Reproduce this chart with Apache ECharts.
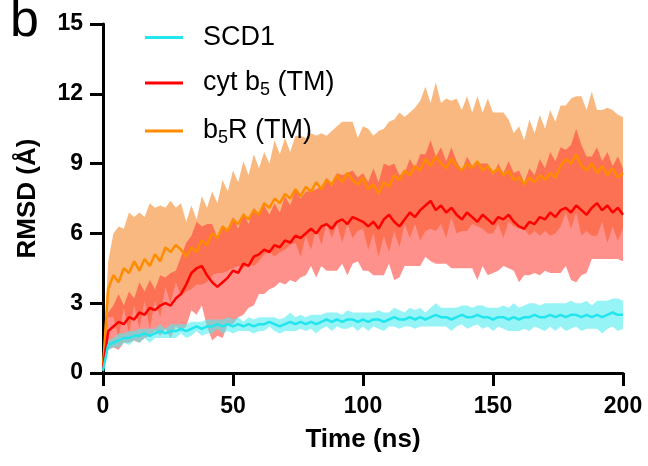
<!DOCTYPE html>
<html>
<head>
<meta charset="utf-8">
<script src="https://cdn.jsdelivr.net/npm/echarts@6/dist/echarts.min.js"></script>
<style>html,body{margin:0;padding:0;background:#fff}#c{width:648px;height:466px}</style>
</head>
<body>
<div id="c"></div>
<script>
// Time points (ns)
const timeNs = [0,2,4,6,8,10,12,14,16,18,20,22,24,26,28,30,32,34,36,38,40,42,44,46,48,50,52,54,56,58,60,62,64,66,68,70,72,74,76,78,80,82,84,86,88,90,92,94,96,98,100,102,104,106,108,110,112,114,116,118,120,122,124,126,128,130,132,134,136,138,140,142,144,146,148,150,152,154,156,158,160,162,164,166,168,170,172,174,176,178,180,182,184,186,188,190,192,194,196,198,200];

// b5R (TM) mean and SD (Å)
const b5rMean = [0.3,3.6,4.2,3.9,4.5,4.3,4.8,4.4,4.9,4.6,5.1,4.8,5.4,5.2,5.5,5.3,5.0,5.4,5.2,5.7,5.5,6.0,5.8,6.3,6.1,6.6,6.4,6.8,6.6,7.0,6.8,7.3,7.1,7.5,7.3,7.7,7.5,7.9,7.6,8.0,7.8,8.2,7.9,8.3,8.1,8.5,8.2,8.6,8.3,8.1,8.4,7.9,8.1,7.7,8.2,8.0,8.5,8.3,8.7,8.5,8.9,8.7,9.2,8.9,9.3,9.0,8.8,9.2,8.9,8.7,9.0,8.8,9.1,8.7,8.9,8.6,8.8,8.5,8.7,8.3,8.4,8.1,8.4,8.2,8.5,8.3,8.6,8.4,8.9,9.2,9.0,9.4,8.9,8.7,9.0,8.6,8.9,8.5,8.8,8.4,8.6];
const b5rSd = [0.3,1.2,1.8,2.4,1.7,2.6,1.9,2.5,1.8,2.7,2.0,2.4,1.7,2.2,1.6,2.0,1.5,1.8,1.4,1.9,1.6,1.8,1.5,2.0,1.7,2.1,1.8,2.3,1.9,2.4,2.0,2.2,1.9,2.5,2.1,2.4,2.0,2.3,2.6,2.1,2.5,2.0,2.4,1.9,2.3,2.1,2.6,2.2,2.5,2.0,2.2,2.6,2.1,2.7,2.3,2.8,2.4,2.9,2.3,2.7,2.5,3.0,3.1,2.7,3.2,2.6,3.0,2.5,2.9,2.6,2.9,2.4,2.8,2.5,2.9,2.6,2.4,2.7,2.2,2.0,2.2,1.9,2.5,2.1,2.6,2.2,2.7,2.4,2.6,2.3,2.8,2.5,3.0,2.6,3.1,2.7,2.4,2.9,2.5,2.7,2.4];

// cyt b5 (TM) mean and SD (Å)
const cytMean = [0.2,1.8,2.0,2.2,2.1,2.4,2.3,2.6,2.5,2.8,2.7,2.9,3.0,2.9,3.2,3.4,3.8,4.3,4.5,4.6,4.2,3.9,3.7,3.9,4.1,4.4,4.3,4.7,4.6,5.0,5.1,5.3,5.2,5.5,5.4,5.7,5.6,5.9,5.8,6.0,6.2,6.0,6.3,6.4,6.2,6.5,6.6,6.4,6.7,6.6,6.5,6.3,6.5,6.2,6.6,6.8,6.5,6.3,6.6,6.9,6.7,7.0,7.2,7.4,7.0,7.2,6.9,7.1,6.8,6.6,6.9,6.7,6.5,6.8,6.6,6.4,6.7,6.6,6.8,6.5,6.3,6.2,6.5,6.4,6.7,6.6,6.9,6.7,7.0,7.1,6.9,7.2,7.0,6.8,7.1,7.3,7.0,7.2,6.9,7.1,6.8];
const cytSd = [0.2,0.8,0.9,1.2,0.8,1.1,0.9,1.3,1.0,1.2,0.9,1.3,1.1,1.4,1.2,1.6,1.8,1.6,2.0,1.7,2.2,2.5,2.1,2.4,2.0,2.3,1.9,2.2,1.8,2.1,1.7,1.9,1.6,1.8,1.5,1.9,1.6,2.0,1.7,1.8,1.6,1.9,1.7,2.0,1.8,2.1,1.9,2.2,2.0,1.8,2.1,1.9,2.3,2.0,2.4,2.1,2.5,2.2,2.0,2.3,2.1,2.4,2.2,2.6,2.3,2.5,2.2,2.6,2.3,2.1,2.4,2.2,2.5,2.2,2.4,2.1,2.3,2.0,2.3,2.1,2.4,2.0,2.3,2.1,2.5,2.2,2.6,2.4,2.7,2.5,2.9,3.3,2.8,2.5,2.2,2.4,2.1,2.3,2.0,2.2,2.0];

// SCD1 mean and SD (Å)
const scdMean = [0.1,1.2,1.3,1.4,1.5,1.5,1.6,1.6,1.7,1.6,1.7,1.8,1.7,1.8,1.8,1.9,1.8,1.9,2.0,1.9,2.0,2.0,2.1,2.0,2.1,2.0,2.1,2.0,2.1,2.0,2.1,2.1,2.2,2.1,2.0,2.1,2.2,2.1,2.2,2.1,2.2,2.1,2.2,2.3,2.2,2.3,2.2,2.3,2.3,2.2,2.3,2.2,2.3,2.3,2.2,2.3,2.4,2.3,2.3,2.4,2.3,2.4,2.3,2.4,2.5,2.4,2.4,2.3,2.4,2.5,2.4,2.4,2.5,2.4,2.4,2.3,2.4,2.4,2.3,2.4,2.3,2.4,2.4,2.5,2.4,2.4,2.5,2.4,2.5,2.4,2.5,2.5,2.4,2.5,2.4,2.5,2.4,2.5,2.6,2.5,2.5];
const scdSd = [0.1,0.2,0.2,0.3,0.2,0.3,0.2,0.3,0.2,0.3,0.2,0.3,0.2,0.3,0.3,0.2,0.3,0.3,0.2,0.3,0.3,0.3,0.2,0.3,0.3,0.3,0.3,0.2,0.3,0.3,0.3,0.3,0.2,0.3,0.3,0.3,0.4,0.3,0.3,0.3,0.3,0.4,0.3,0.3,0.4,0.3,0.3,0.4,0.3,0.4,0.3,0.4,0.3,0.4,0.4,0.3,0.4,0.4,0.3,0.4,0.4,0.4,0.3,0.4,0.5,0.4,0.4,0.5,0.4,0.4,0.5,0.4,0.4,0.5,0.4,0.5,0.4,0.5,0.5,0.6,0.5,0.5,0.6,0.5,0.5,0.6,0.5,0.6,0.5,0.6,0.6,0.5,0.6,0.6,0.5,0.6,0.7,0.6,0.6,0.7,0.6];

const xTicks = [0, 50, 100, 150, 200];
const yTicks = [0, 3, 6, 9, 12, 15];

const FONT = "'Liberation Sans', Arial, sans-serif";

function pairs(vals) { return timeNs.map((t, i) => [t, vals[i]]); }

// shaded band (mean ± SD) drawn as one polygon through the axis scales
function band(key, m, s, color) {
  const rows = timeNs.map((t, i) => [t, +(m[i] - s[i]).toFixed(2), +(m[i] + s[i]).toFixed(2)]);
  return {
    name: key, type: 'custom', silent: true, z: 1,
    data: rows,
    encode: { x: 0, y: [1, 2] },
    renderItem: function (params, api) {
      if (params.dataIndex !== 0) return null;
      const top = rows.map(r => api.coord([r[0], r[2]]));
      const bot = rows.map(r => api.coord([r[0], r[1]])).reverse();
      return { type: 'polygon', shape: { points: top.concat(bot) }, style: { fill: color } };
    }
  };
}

const chart = echarts.init(document.getElementById('c'), null, { renderer: 'canvas' });
chart.setOption({
  animation: false,
  backgroundColor: '#fff',
  textStyle: { fontFamily: FONT },
  title: { text: 'b', left: 5, top: -9, textStyle: { fontSize: 52, fontWeight: 'normal', color: '#000', fontFamily: FONT } },
  grid: { left: 103, right: 25, top: 24, bottom: 93, containLabel: false, outerBoundsMode: 'none' },
  legend: {
    orient: 'vertical', left: 140, top: 19, icon: 'rect', itemWidth: 38, itemHeight: 3, itemGap: 16,
    data: ['SCD1', 'cyt b5 (TM)', 'b5R (TM)'],
    formatter: function (n) {
      if (n === 'cyt b5 (TM)') return '{n|cyt b}{s|5}{n| (TM)}';
      if (n === 'b5R (TM)') return '{n|b}{s|5}{n|R (TM)}';
      return '{n|' + n + '}';
    },
    textStyle: {
      padding: [0, 0, 0, 15],
      rich: {
        n: { fontSize: 27, color: '#000', fontFamily: FONT, lineHeight: 30 },
        s: { fontSize: 18, color: '#000', fontFamily: FONT, padding: [14, 0, 0, 0], lineHeight: 20 }
      }
    }
  },
  xAxis: {
    type: 'value', min: 0, max: 200, interval: 50,
    name: 'Time (ns)', nameLocation: 'middle', nameGap: 54,
    nameTextStyle: { fontSize: 26, fontWeight: 'bold', color: '#000', fontFamily: FONT },
    axisLine: { show: true, onZero: false, lineStyle: { color: '#000', width: 3 } },
    axisTick: { show: true, length: 13, lineStyle: { color: '#000', width: 3 } },
    axisLabel: { fontSize: 23, fontWeight: 'bold', color: '#000', margin: 22, fontFamily: FONT,
      formatter: v => xTicks.includes(v) ? String(v) : '' },
    splitLine: { show: false }
  },
  yAxis: {
    type: 'value', min: 0, max: 15, interval: 3,
    name: 'RMSD (Å)', nameLocation: 'middle', nameGap: 62,
    nameTextStyle: { fontSize: 26, fontWeight: 'bold', color: '#000', fontFamily: FONT },
    axisLine: { show: true, lineStyle: { color: '#000', width: 3 } },
    axisTick: { show: true, length: 13, lineStyle: { color: '#000', width: 3 } },
    axisLabel: { fontSize: 23, fontWeight: 'bold', color: '#000', margin: 20, fontFamily: FONT,
      formatter: v => yTicks.includes(v) ? String(v) : '' },
    splitLine: { show: false }
  },
  series: [
    band('b5rBand', b5rMean, b5rSd, 'rgba(246,140,50,0.62)'),
    band('cytBand', cytMean, cytSd, 'rgba(255,55,45,0.55)'),
    band('scdBand', scdMean, scdSd, 'rgba(80,235,240,0.6)'),
    { name: 'b5R (TM)', type: 'line', data: pairs(b5rMean), symbol: 'none', showSymbol: false, color: '#ff8c00',
      lineStyle: { color: '#ff8c00', width: 2.5 }, z: 3 },
    { name: 'cyt b5 (TM)', type: 'line', data: pairs(cytMean), symbol: 'none', showSymbol: false, color: '#ff0000',
      lineStyle: { color: '#ff0000', width: 2.5 }, z: 3 },
    { name: 'SCD1', type: 'line', data: pairs(scdMean), symbol: 'none', showSymbol: false, color: '#22e6ee',
      lineStyle: { color: '#22e6ee', width: 2.5 }, z: 3 }
  ]
});
</script>
</body>
</html>
